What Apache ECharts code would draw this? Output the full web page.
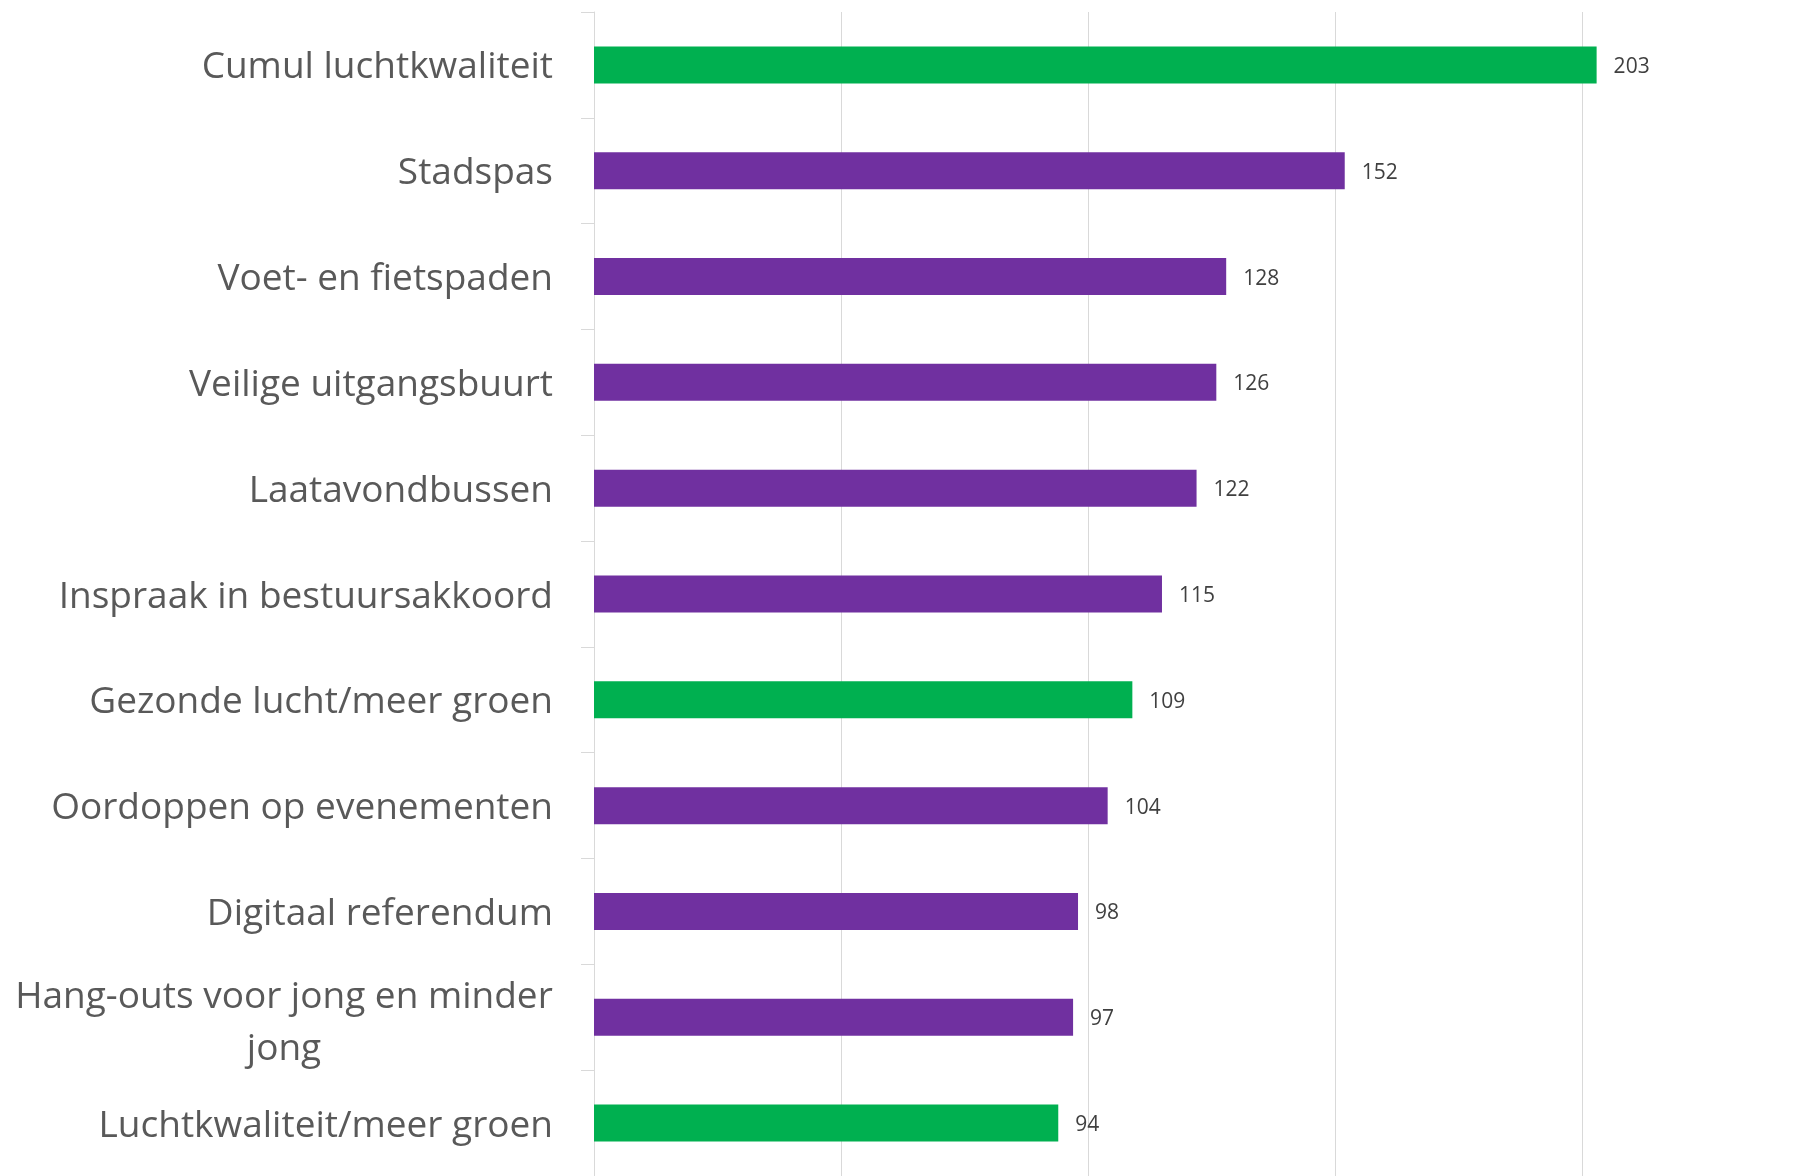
<!DOCTYPE html>
<html>
<head>
<meta charset="utf-8">
<script src="https://cdn.jsdelivr.net/npm/echarts@6/dist/echarts.min.js"></script>
<style>
html,body{margin:0;padding:0;background:#fff;}
#chart{width:1809px;height:1176px;}
</style>
</head>
<body>
<div id="chart"></div>
<script>
const categories = [
  'Cumul luchtkwaliteit',
  'Stadspas',
  'Voet- en fietspaden',
  'Veilige uitgangsbuurt',
  'Laatavondbussen',
  'Inspraak in bestuursakkoord',
  'Gezonde lucht/meer groen',
  'Oordoppen op evenementen',
  'Digitaal referendum',
  'Hang-outs voor jong en minder\njong',
  'Luchtkwaliteit/meer groen'
];
const values = [203, 152, 128, 126, 122, 115, 109, 104, 98, 97, 94];
const groups = ['lucht', 'overig', 'overig', 'overig', 'overig', 'overig', 'lucht', 'overig', 'overig', 'overig', 'lucht'];
const groupColors = { lucht: '#00B050', overig: '#7030A0' };
const xMin = 0;
const xMax = 246;
const xInterval = 50;

const catFont = '37px "Open Sans"';
const cv = document.createElement('canvas').getContext('2d');
cv.font = catFont;
let wrapWidth = 0;
categories.forEach(c => {
  if (c.indexOf('\n') >= 0) {
    c.split('\n').forEach(l => { wrapWidth = Math.max(wrapWidth, Math.ceil(cv.measureText(l).width)); });
  }
});

const textBase = { fontFamily: 'Open Sans', fontSize: 37, lineHeight: 52, color: '#595959' };

const chart = echarts.init(document.getElementById('chart'), null, { renderer: 'canvas' });
chart.setOption({
  animation: false,
  backgroundColor: '#ffffff',
  grid: { left: 594, top: 12, right: 0, height: 1168, containLabel: false },
  xAxis: {
    type: 'value',
    min: xMin,
    max: xMax,
    interval: xInterval,
    axisLine: { show: false },
    axisTick: { show: false },
    axisLabel: { show: false },
    splitLine: { show: true, showMaxLine: false, lineStyle: { color: '#D9D9D9', width: 1 } }
  },
  yAxis: {
    type: 'category',
    inverse: true,
    data: categories,
    axisLine: { show: true, lineStyle: { color: '#D9D9D9', width: 1 } },
    axisTick: { show: true, length: 13, lineStyle: { color: '#D9D9D9', width: 1 } },
    axisLabel: {
      interval: 0,
      margin: 41,
      color: '#595959',
      fontFamily: 'Open Sans',
      fontSize: 37,
      lineHeight: 52,
      formatter: function (value) {
        const lines = value.split('\n');
        if (lines.length === 1) return '{s| }\n{a|' + value + '}';
        return '{t| }\n' + lines.map(l => '{c|' + l + '}').join('\n');
      },
      rich: {
        s: { fontSize: 1, lineHeight: 6 },
        t: { fontSize: 1, lineHeight: 12 },
        a: Object.assign({}, textBase),
        c: Object.assign({}, textBase, { width: wrapWidth, align: 'center' })
      }
    },
    splitLine: { show: false }
  },
  series: [{
    type: 'bar',
    barWidth: 37,
    data: values.map((v, i) => ({ value: v, itemStyle: { color: groupColors[groups[i]] } })),
    label: {
      show: true,
      position: 'right',
      distance: 17,
      offset: [0, 2],
      color: '#404040',
      fontFamily: 'Open Sans',
      fontSize: 21
    }
  }]
});
</script>
</body>
</html>
